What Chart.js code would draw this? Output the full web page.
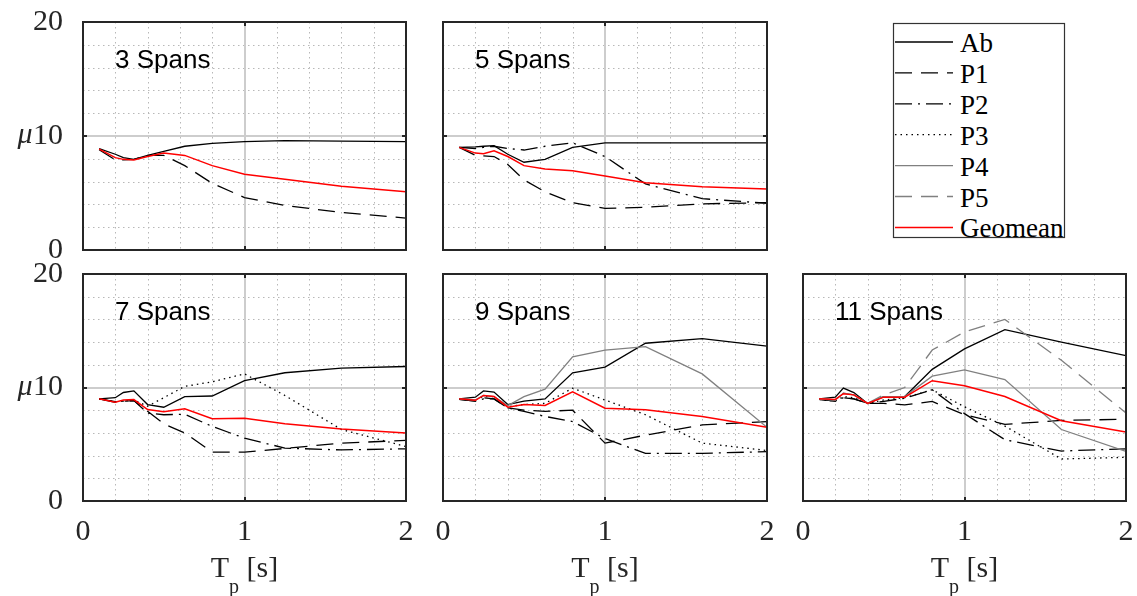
<!DOCTYPE html>
<html>
<head>
<meta charset="utf-8">
<script src="https://cdn.jsdelivr.net/npm/chart.js@4/dist/chart.umd.min.js"></script>
<style>
  body { margin: 0; background: #fff; width: 1137px; height: 596px; position: relative; overflow: hidden; }
  canvas { position: absolute; }
  #legend { position: absolute; left: 0; top: 0; }
</style>
</head>
<body>
<svg id="legend" width="1137" height="596"></svg>
<script>
// period of the pulse [s]
const tp = [0.1, 0.2, 0.25, 0.315, 0.4, 0.5, 0.63, 0.8, 1, 1.25, 1.6, 2];

// ductility demand
const ab3  = [8.9, 8.4, 8.1, 7.95, 8.3, 8.65, 9.1, 9.35, 9.5, 9.6, 9.55, 9.5];
const p1_3 = [8.8, 7.9, 7.9, 7.95, 8.3, 8.3, 7.4, 5.85, 4.6, 3.9, 3.3, 2.8];
const geo3 = [8.85, 8.1, 7.95, 7.9, 8.2, 8.5, 8.3, 7.4, 6.65, 6.2, 5.6, 5.1];

const ab5  = [9.0, 9.05, 9.1, 9.15, 8.4, 7.7, 7.95, 9.0, 9.4, 9.4, 9.4, 9.4];
const p1_5 = [9.0, 8.3, 8.25, 8.2, 7.5, 6.15, 5.1, 4.15, 3.65, 3.75, 4.05, 4.15];
const p2_5 = [9.0, 8.9, 9.0, 9.1, 8.9, 8.77, 9.1, 9.4, 8.2, 5.8, 4.5, 4.1];
const geo5 = [9.0, 8.5, 8.45, 8.7, 8.2, 7.4, 7.1, 6.96, 6.5, 5.9, 5.55, 5.35];

const ab7  = [9.0, 9.1, 9.56, 9.7, 8.5, 8.26, 9.2, 9.25, 10.6, 11.3, 11.7, 11.85];
const p1_7 = [9.0, 8.7, 8.8, 8.85, 7.9, 6.8, 6.0, 4.3, 4.3, 4.63, 5.1, 5.34];
const p2_7 = [9.0, 8.75, 8.8, 8.85, 7.74, 7.6, 7.65, 6.57, 5.54, 4.66, 4.5, 4.6];
const p3_7 = [9.0, 8.75, 8.8, 8.9, 8.35, 9.1, 10.1, 10.5, 11.2, 9.3, 6.3, 4.8];
const geo7 = [9.0, 8.7, 8.9, 8.94, 8.06, 7.86, 8.12, 7.24, 7.3, 6.8, 6.35, 6.0];

const ab9  = [9.0, 9.15, 9.7, 9.6, 8.5, 8.8, 9.0, 11.3, 11.8, 13.9, 14.3, 13.65];
const p1_9 = [8.95, 8.8, 9.1, 9.0, 8.2, 8.0, 7.9, 8.0, 5.1, 5.8, 6.7, 7.0];
const p2_9 = [8.95, 8.8, 9.0, 9.0, 8.2, 7.9, 7.45, 7.0, 5.5, 4.2, 4.2, 4.35];
const p3_9 = [8.95, 8.9, 9.2, 9.2, 8.3, 8.5, 8.6, 9.94, 8.9, 7.6, 5.1, 4.45];
const p4_9 = [9.0, 8.9, 9.3, 9.2, 8.4, 9.2, 9.85, 12.7, 13.3, 13.6, 11.2, 6.5];
const geo9 = [9.0, 8.87, 9.3, 9.2, 8.27, 8.5, 8.42, 9.62, 8.18, 8.03, 7.45, 6.5];

const ab11  = [9.0, 9.15, 9.95, 9.55, 8.6, 9.2, 9.2, 11.6, 13.4, 15.1, 14.0, 12.8];
const p1_11 = [8.95, 8.8, 9.1, 9.0, 8.6, 8.6, 8.47, 8.77, 7.6, 6.75, 7.1, 7.2];
const p2_11 = [8.95, 8.8, 9.1, 9.0, 8.6, 8.77, 9.06, 9.8, 7.7, 5.4, 4.4, 4.6];
const p3_11 = [8.95, 8.8, 9.2, 9.1, 8.6, 8.9, 9.1, 9.8, 8.3, 6.6, 3.7, 3.85];
const p4_11 = [9.0, 8.9, 9.5, 9.35, 8.6, 9.2, 9.2, 11.0, 11.55, 10.7, 6.3, 4.37];
const p5_11 = [9.0, 8.9, 9.5, 9.35, 8.6, 9.35, 10.0, 13.3, 14.9, 16.0, 12.4, 7.75];
const geo11 = [9.0, 8.95, 9.45, 9.35, 8.6, 9.15, 9.15, 10.6, 10.15, 9.2, 7.07, 6.07];

const seriesNames = ['Ab', 'P1', 'P2', 'P3', 'P4', 'P5', 'Geomean'];

const lineStyle = {
  Ab:      { color: '#000000', width: 1.3, dash: [] },
  P1:      { color: '#000000', width: 1.3, dash: [17, 9] },
  P2:      { color: '#000000', width: 1.3, dash: [17, 6, 2, 6] },
  P3:      { color: '#000000', width: 1.3, dash: [1.5, 4] },
  P4:      { color: '#808080', width: 1.3, dash: [] },
  P5:      { color: '#808080', width: 1.3, dash: [17, 9] },
  Geomean: { color: '#ff0000', width: 1.5, dash: [] }
};

const panels = [
  { label: '3 Spans',  l: 83,  t: 22,  w: 323, h: 228, left: true,  bottom: false,
    series: { Ab: ab3, P1: p1_3, Geomean: geo3 } },
  { label: '5 Spans',  l: 443, t: 22,  w: 324, h: 228, left: false, bottom: false,
    series: { Ab: ab5, P1: p1_5, P2: p2_5, Geomean: geo5 } },
  { label: '7 Spans',  l: 83,  t: 274, w: 323, h: 227, left: true,  bottom: true,
    series: { Ab: ab7, P1: p1_7, P2: p2_7, P3: p3_7, Geomean: geo7 } },
  { label: '9 Spans',  l: 443, t: 274, w: 324, h: 227, left: false, bottom: true,
    series: { Ab: ab9, P1: p1_9, P2: p2_9, P3: p3_9, P4: p4_9, Geomean: geo9 } },
  { label: '11 Spans', l: 803, t: 274, w: 323, h: 227, left: false, bottom: true,
    series: { Ab: ab11, P1: p1_11, P2: p2_11, P3: p3_11, P4: p4_11, P5: p5_11, Geomean: geo11 } }
];

const serif = '"Liberation Serif", "Times New Roman", serif';
Chart.defaults.font.family = serif;
const isWhole = v => Math.abs(v - Math.round(v)) < 1e-6;
const tickFont = { family: serif, size: 30, lineHeight: 1.2 };

// MATLAB-like box, grid and texts
const frame = {
  id: 'frame',
  beforeDatasetsDraw(chart) {
    const { ctx, chartArea: a, scales: { x, y } } = chart;
    ctx.save();
    ctx.lineWidth = 1;
    ctx.strokeStyle = '#b8b8b8';
    ctx.setLineDash([1.5, 3.5]);
    ctx.beginPath();
    for (let i = 1; i < 10; i++) {
      if (i === 5) continue;
      const px = Math.round(x.getPixelForValue(i * 0.2)) + 0.5;
      ctx.moveTo(px, a.top); ctx.lineTo(px, a.bottom);
    }
    for (let v = 2; v < 20; v += 2) {
      if (v === 10) continue;
      const py = Math.round(y.getPixelForValue(v)) + 0.5;
      ctx.moveTo(a.left, py); ctx.lineTo(a.right, py);
    }
    ctx.stroke();
    ctx.setLineDash([]);
    ctx.strokeStyle = '#cdcdcd';
    ctx.lineWidth = 2;
    ctx.beginPath();
    const mx = Math.round(x.getPixelForValue(1));
    const my = Math.round(y.getPixelForValue(10));
    ctx.moveTo(mx, a.top); ctx.lineTo(mx, a.bottom);
    ctx.moveTo(a.left, my); ctx.lineTo(a.right, my);
    ctx.stroke();
    ctx.restore();
  },
  afterDatasetsDraw(chart, args, opts) {
    const { ctx, chartArea: a, scales: { x, y } } = chart;
    ctx.save();
    ctx.strokeStyle = '#262626';
    ctx.lineWidth = 2;
    ctx.strokeRect(a.left, a.top, a.right - a.left, a.bottom - a.top);
    const mx = Math.round(x.getPixelForValue(1));
    const my = Math.round(y.getPixelForValue(10));
    ctx.beginPath();
    ctx.moveTo(mx, a.top); ctx.lineTo(mx, a.top + 4);
    ctx.moveTo(mx, a.bottom); ctx.lineTo(mx, a.bottom - 4);
    ctx.moveTo(a.left, my); ctx.lineTo(a.left + 4, my);
    ctx.moveTo(a.right, my); ctx.lineTo(a.right - 4, my);
    ctx.stroke();

    ctx.fillStyle = '#000';
    ctx.textAlign = 'left';
    ctx.textBaseline = 'alphabetic';
    ctx.font = '26px "Liberation Sans", Arial, sans-serif';
    ctx.fillText(opts.label, a.left + 32, a.top + 46);

    ctx.fillStyle = '#262626';
    if (opts.mu) {
      ctx.font = 'italic 30px ' + serif;
      ctx.textAlign = 'center';
      ctx.fillText('μ', a.left - 58, my + 7);
    }
    if (opts.xTitle) {
      const base = a.bottom + 76;
      ctx.textAlign = 'left';
      ctx.font = '30px ' + serif;
      const wT = ctx.measureText('T').width;
      const wS = ctx.measureText(' [s]').width;
      ctx.font = '20px ' + serif;
      const wP = ctx.measureText('p').width;
      const x0 = (a.left + a.right) / 2 - (wT + wP + wS) / 2;
      ctx.font = '30px ' + serif;
      ctx.fillText('T', x0, base);
      ctx.fillText(' [s]', x0 + wT + wP, base);
      ctx.font = '20px ' + serif;
      ctx.fillText('p', x0 + wT, base + 16);
    }
    ctx.restore();
  }
};

panels.forEach(p => {
  const padT = 20, padR = 20, axW = 80;
  const top = p.t - padT;
  const cw = p.w + axW + padR;
  const ch = p.bottom ? 596 - top : p.h + padT + 20;
  const canvas = document.createElement('canvas');
  canvas.width = cw;
  canvas.height = ch;
  canvas.style.left = (p.l - axW) + 'px';
  canvas.style.top = top + 'px';
  document.body.appendChild(canvas);

  const names = Object.keys(p.series);
  const datasets = names.map((name, i) => ({
    label: name,
    data: tp.map((t, j) => ({ x: t, y: p.series[name][j] })),
    borderColor: lineStyle[name].color,
    borderWidth: lineStyle[name].width,
    borderDash: lineStyle[name].dash,
    pointRadius: 0,
    fill: false,
    tension: 0,
    order: names.length - i
  }));

  new Chart(canvas, {
    type: 'line',
    data: { datasets },
    options: {
      responsive: false,
      animation: false,
      devicePixelRatio: 1,
      layout: { padding: { top: padT, right: padR, left: 0, bottom: 0 } },
      plugins: {
        legend: { display: false },
        tooltip: { enabled: false },
        frame: { label: p.label, mu: p.left, xTitle: p.bottom }
      },
      scales: {
        x: {
          type: 'linear', min: 0, max: 2,
          afterFit: s => { s.height = ch - padT - p.h; s.paddingLeft = 0; s.paddingRight = 0; },
          grid: { display: false },
          border: { display: false },
          ticks: {
            display: p.bottom, stepSize: 0.2, autoSkip: false, maxRotation: 0,
            padding: 5, font: tickFont, color: '#262626',
            callback: v => isWhole(v) ? String(Math.round(v)) : ''
          }
        },
        y: {
          type: 'linear', min: 0, max: 20,
          afterFit: s => { s.width = axW; s.paddingTop = 0; s.paddingBottom = 0; },
          grid: { display: false },
          border: { display: false },
          ticks: {
            display: p.left, stepSize: 2, autoSkip: false,
            padding: 12, font: tickFont, color: '#262626',
            callback: v => (Math.round(v) % 10 === 0) ? String(Math.round(v)) : ''
          }
        }
      }
    },
    plugins: [frame]
  });
});

// legend box
const svg = document.getElementById('legend');
const ns = 'http://www.w3.org/2000/svg';
const box = document.createElementNS(ns, 'rect');
box.setAttribute('x', 893.5); box.setAttribute('y', 23.5);
box.setAttribute('width', 171); box.setAttribute('height', 214);
box.setAttribute('fill', '#fff'); box.setAttribute('stroke', '#333'); box.setAttribute('stroke-width', 1.2);
svg.appendChild(box);
seriesNames.forEach((name, i) => {
  const yy = 42 + i * 30.9;
  const st = lineStyle[name];
  const ln = document.createElementNS(ns, 'line');
  ln.setAttribute('x1', 895); ln.setAttribute('x2', 953);
  ln.setAttribute('y1', yy); ln.setAttribute('y2', yy);
  ln.setAttribute('stroke', st.color);
  ln.setAttribute('stroke-width', st.width);
  if (st.dash.length) ln.setAttribute('stroke-dasharray', st.dash.join(' '));
  svg.appendChild(ln);
  const tx = document.createElementNS(ns, 'text');
  tx.setAttribute('x', 960); tx.setAttribute('y', yy + 10);
  tx.setAttribute('font-family', serif);
  tx.setAttribute('font-size', 27);
  tx.setAttribute('fill', '#000');
  tx.textContent = name;
  svg.appendChild(tx);
});
</script>
</body>
</html>
